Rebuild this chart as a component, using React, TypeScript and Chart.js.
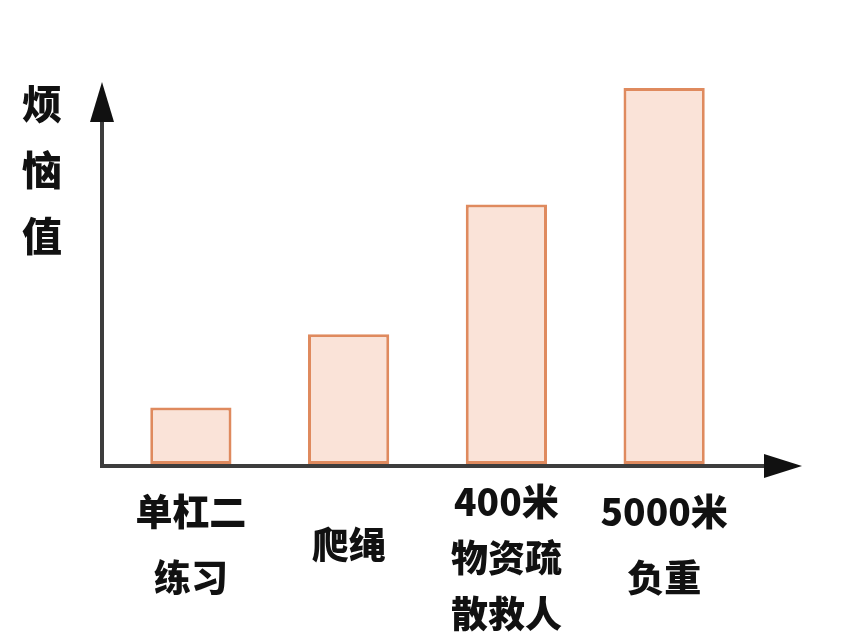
import React, { useEffect, useRef } from "react";
import { Chart, registerables } from "chart.js";

Chart.register(...registerables);

const categories: string[][] = [
  ["单杠二", "练习"],
  ["爬绳"],
  ["400米", "物资疏", "散救人"],
  ["5000米", "负重"],
];
const worryValues: number[] = [1.5, 3.45, 6.9, 10];
const yAxisTitle = "烦恼值";
const yMax = 10;

const FONT = '"Noto Sans CJK SC", "Noto Sans", sans-serif';

// draws the hand-drawn style axes with arrows, the y title and the category labels
const axesPlugin = {
  id: "arrowAxes",
  beforeDatasetsDraw(chart: any) {
    const { ctx, chartArea } = chart;
    const yLineX = chartArea.left - 10;
    const xLineY = chartArea.bottom + 2;
    ctx.save();
    ctx.strokeStyle = "#3d3d3d";
    ctx.lineWidth = 4;
    ctx.lineCap = "butt";
    // y axis
    ctx.beginPath();
    ctx.moveTo(yLineX, xLineY + 2);
    ctx.lineTo(yLineX, chartArea.top + 34);
    ctx.stroke();
    // x axis
    ctx.beginPath();
    ctx.moveTo(yLineX - 2, xLineY);
    ctx.lineTo(chartArea.right + 22, xLineY);
    ctx.stroke();
    // arrow heads
    ctx.fillStyle = "#111";
    ctx.beginPath();
    ctx.moveTo(yLineX, chartArea.top - 6);
    ctx.lineTo(yLineX - 12, chartArea.top + 34);
    ctx.lineTo(yLineX + 12, chartArea.top + 34);
    ctx.closePath();
    ctx.fill();
    ctx.beginPath();
    ctx.moveTo(chartArea.right + 59, xLineY);
    ctx.lineTo(chartArea.right + 21, xLineY - 12);
    ctx.lineTo(chartArea.right + 21, xLineY + 12);
    ctx.closePath();
    ctx.fill();
    ctx.restore();
  },
  afterDraw(chart: any) {
    const { ctx, chartArea } = chart;
    const xScale = chart.scales.x;
    ctx.save();
    ctx.fillStyle = "#111";
    ctx.textAlign = "center";
    ctx.textBaseline = "middle";
    // y title, one character per line
    ctx.font = `900 40px ${FONT}`;
    Array.from(yAxisTitle).forEach((ch, i) => {
      ctx.fillText(ch, 42, chartArea.top + 16 + i * 66);
    });
    // category labels, block centred under the axis
    ctx.font = `900 37px ${FONT}`;
    categories.forEach((lines, i) => {
      const x = xScale.getPixelForTick(i);
      const long = lines.length > 2;
      const lh = long ? 56 : 66;
      const mid = chartArea.bottom + (long ? 94 : 81);
      const start = mid - ((lines.length - 1) * lh) / 2;
      lines.forEach((line, j) => {
        ctx.fillText(line, x, start + j * lh);
      });
    });
    ctx.restore();
  },
};

export default function App() {
  const chartRef = useRef<HTMLCanvasElement | null>(null);
  const chartInstanceRef = useRef<Chart | null>(null);

  useEffect(() => {
    document.body.style.margin = "0";
    document.body.style.background = "#ffffff";
    if (chartRef.current) {
      if (chartInstanceRef.current) {
        chartInstanceRef.current.destroy();
      }
      chartInstanceRef.current = new Chart(chartRef.current, {
        type: "bar",
        data: {
          labels: categories.map((c) => c.join("")),
          datasets: [
            {
              label: yAxisTitle,
              data: worryValues,
              backgroundColor: "#fae3d8",
              borderColor: "#df8a5e",
              borderWidth: 3,
              borderSkipped: false,
              categoryPercentage: 1,
              barPercentage: 0.515,
            },
          ],
        },
        options: {
          animation: false,
          responsive: false,
          maintainAspectRatio: false,
          layout: {
            padding: { left: 112, right: 117, top: 88, bottom: 174 },
          },
          plugins: {
            legend: { display: false },
            title: { display: false },
            tooltip: { enabled: false },
          },
          scales: {
            x: { display: false },
            y: { display: false, min: 0, max: yMax },
          },
        },
        plugins: [axesPlugin],
      });
    }

    return () => {
      if (chartInstanceRef.current) {
        chartInstanceRef.current.destroy();
        chartInstanceRef.current = null;
      }
    };
  }, []);

  return <canvas ref={chartRef} width={860} height={638}></canvas>;
}
